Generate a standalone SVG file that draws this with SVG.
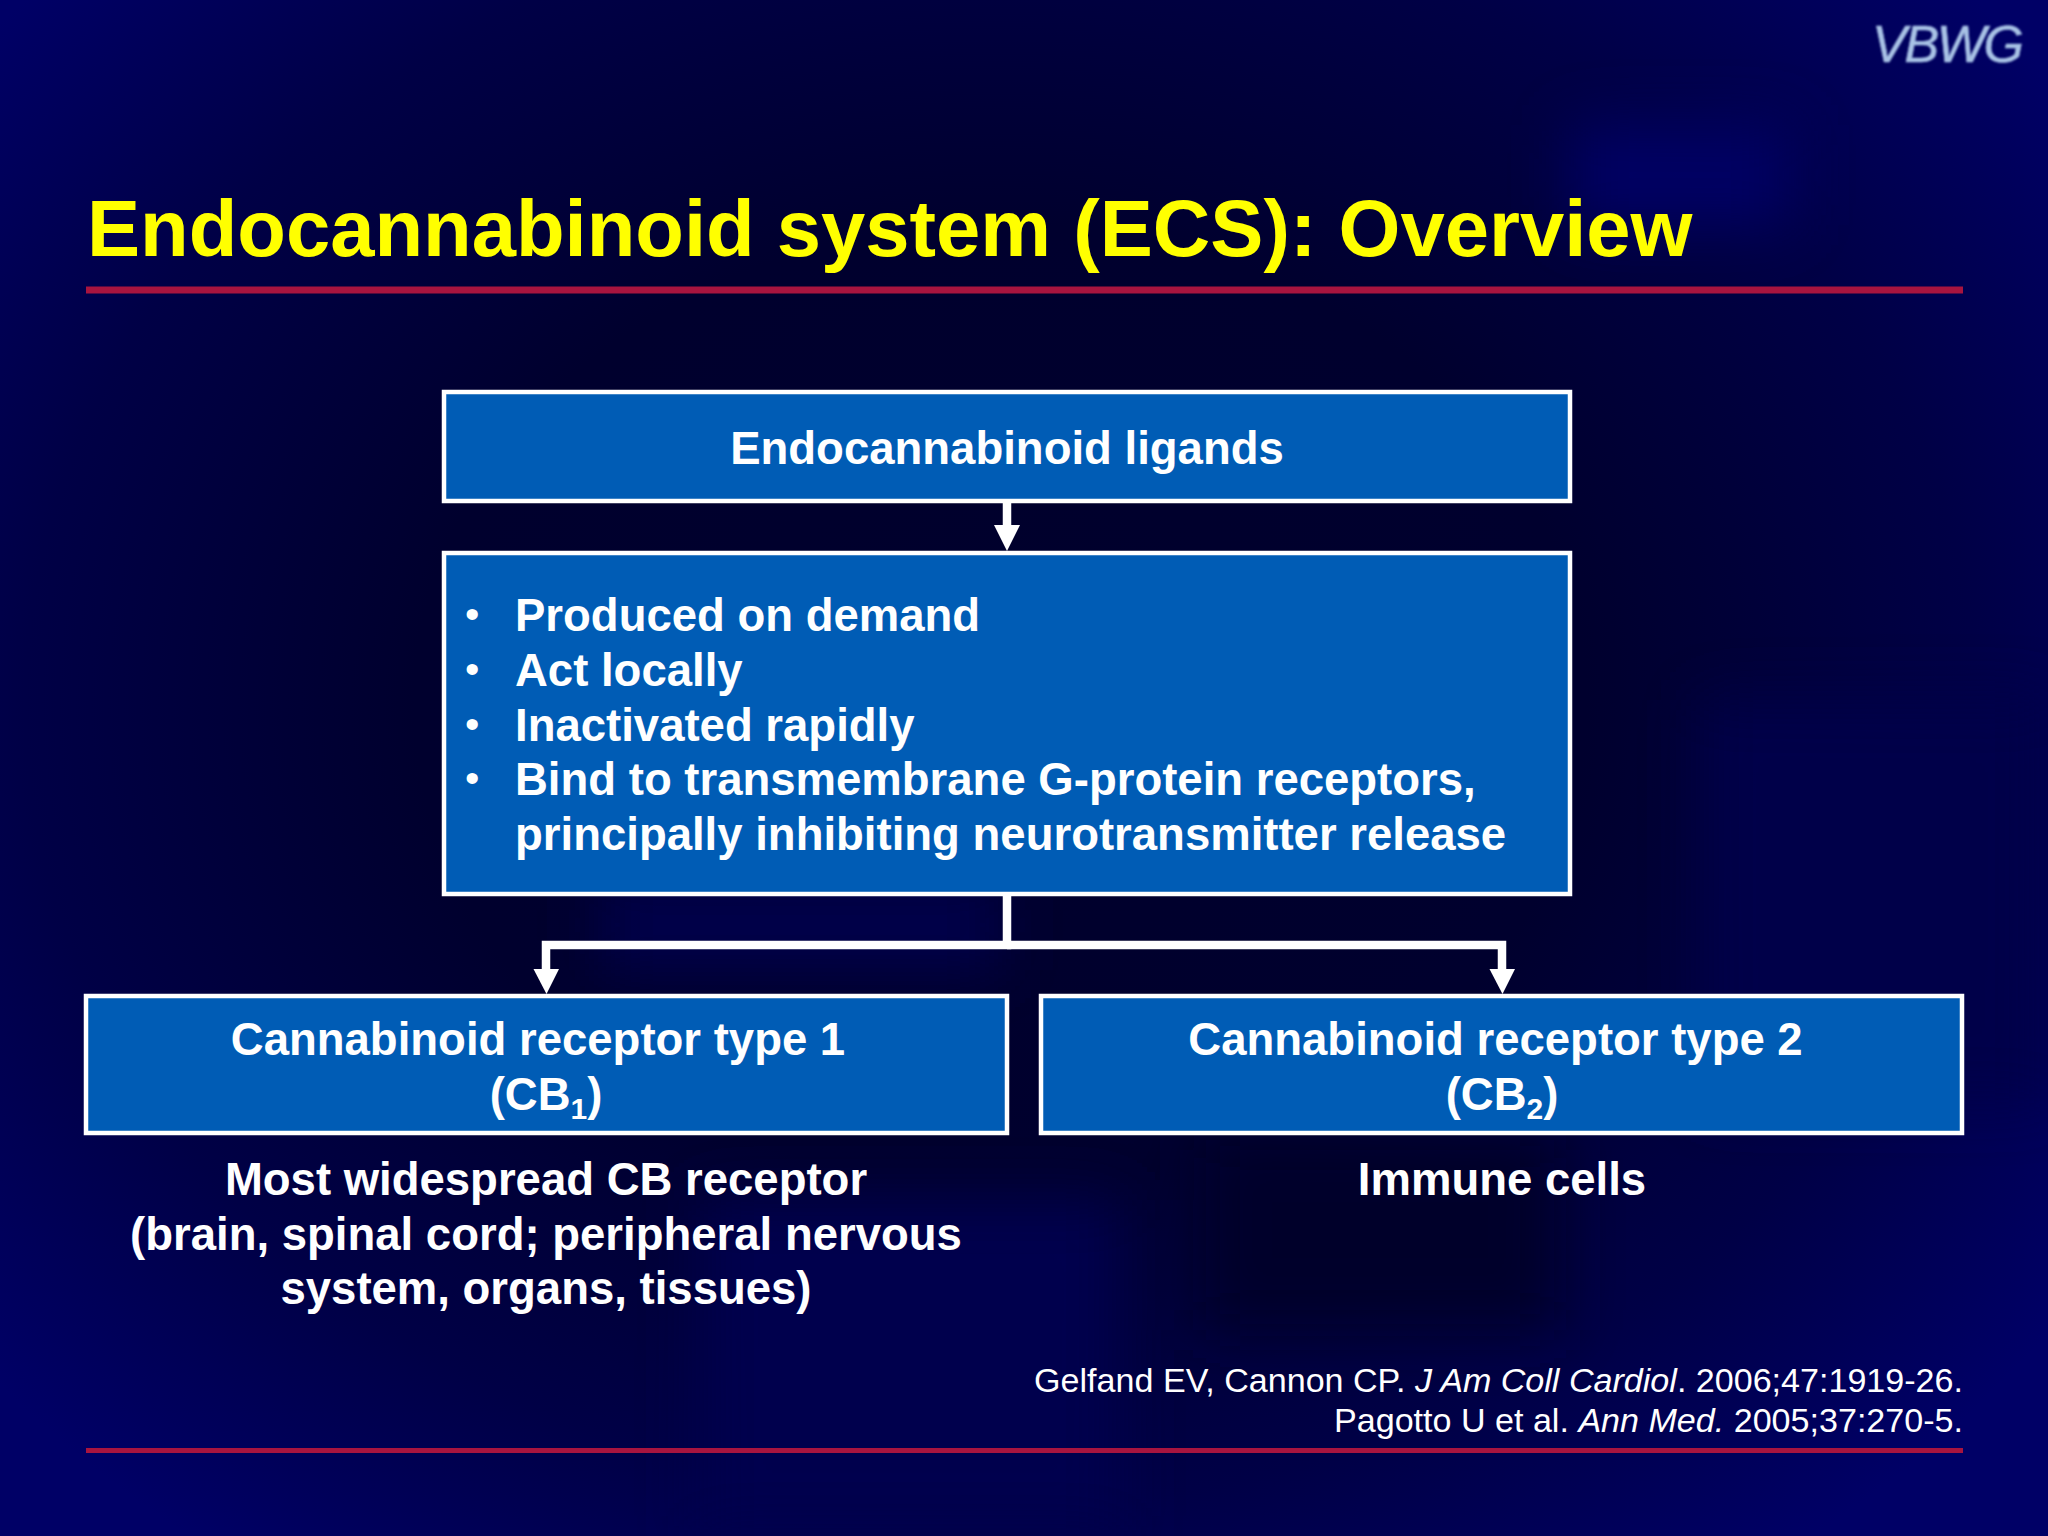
<svg xmlns="http://www.w3.org/2000/svg" width="2048" height="1536" viewBox="0 0 2048 1536">
<defs>
<radialGradient id="bg" gradientUnits="userSpaceOnUse" cx="1000" cy="700" r="1300" gradientTransform="translate(0 130) scale(1 .82)">
<stop offset="0" stop-color="#00002c"/><stop offset=".45" stop-color="#00002e"/><stop offset=".75" stop-color="#000046"/><stop offset="1" stop-color="#000066"/>
</radialGradient>
<filter id="blur" x="-30%" y="-30%" width="160%" height="160%"><feGaussianBlur stdDeviation="30"/></filter>
<filter id="soft"><feGaussianBlur stdDeviation="1.2"/></filter>
</defs>
<style>
.t{font-family:"Liberation Sans",Arial,sans-serif;font-weight:700;font-size:45.5px;fill:#fff}
.b{font-family:"Liberation Sans",Arial,sans-serif;font-size:41px;fill:#fff}
.c{text-anchor:middle}
.r{font-family:"Liberation Sans",Arial,sans-serif;font-size:34.1px;fill:#fff;text-anchor:end}
.box{fill:#005cb5;stroke:#fff;stroke-width:4.5}
.rule{fill:#a8143f}
.conn{fill:none;stroke:#fff;stroke-width:8.5}
</style>
<rect id="background" width="2048" height="1536" fill="url(#bg)"/>
<g id="patches" filter="url(#blur)">
<rect x="1570" y="125" width="220" height="100" fill="#000064"/>
<rect x="700" y="1200" width="420" height="336" fill="#00004e"/>
<rect x="1200" y="1130" width="360" height="200" fill="#00002a"/>
<rect x="600" y="880" width="400" height="90" fill="#00004c"/>
<rect x="1700" y="700" width="348" height="400" fill="#00004a"/>
</g>
<text id="logo" x="1872" y="62" font-family="Liberation Sans,Arial,sans-serif" font-style="italic" font-size="52" fill="#a9c3e6" stroke="#a9c3e6" stroke-width=".6" filter="url(#soft)" textLength="152">VBWG</text>
<g id="header">
<text x="87" y="255.500" font-family="Liberation Sans,Arial,sans-serif" font-weight="700" font-size="79.600" fill="#ffff00">Endocannabinoid system (ECS): Overview</text>
<rect class="rule" x="86" y="286.500" width="1877" height="7"/>
</g>
<g id="connectors">
<path class="conn" d="M1007 503V530" />
<path d="M994 525L1020 525L1007 551Z" fill="#fff"/>
<path class="conn" d="M1007 896V945H546V970"/>
<path d="M533.500 969L559 969L546.500 994Z" fill="#fff"/>
<path class="conn" d="M1007 945H1502V970"/>
<path d="M1489.500 969L1515 969L1502.500 994Z" fill="#fff"/>
</g>
<g id="node-ligands">
<rect class="box" x="444" y="392" width="1126" height="109"/>
<text class="t c" x="1007" y="464">Endocannabinoid ligands</text>
</g>
<g id="node-properties">
<rect class="box" x="444" y="553" width="1126" height="341"/>
<text class="b" x="465" y="628">•</text><text class="t" x="515" y="631">Produced on demand</text>
<text class="b" x="465" y="683">•</text><text class="t" x="515" y="686">Act locally</text>
<text class="b" x="465" y="738">•</text><text class="t" x="515" y="741">Inactivated rapidly</text>
<text class="b" x="465" y="792">•</text><text class="t" x="515" y="795">Bind to transmembrane G-protein receptors,</text>
<text class="t" x="515" y="850">principally inhibiting neurotransmitter release</text>
</g>
<g id="node-cb1">
<rect class="box" x="86" y="996" width="921" height="137"/>
<text class="t c" x="538" y="1055">Cannabinoid receptor type 1</text>
<text class="t c" x="546" y="1110">(CB<tspan font-size="30" dy="9">1</tspan><tspan dy="-9">)</tspan></text>
</g>
<g id="node-cb2">
<rect class="box" x="1041" y="996" width="921" height="137"/>
<text class="t c" x="1495.500" y="1055">Cannabinoid receptor type 2</text>
<text class="t c" x="1502" y="1110">(CB<tspan font-size="30" dy="9">2</tspan><tspan dy="-9">)</tspan></text>
</g>
<g id="note-cb1">
<text class="t c" x="546" y="1195">Most widespread CB receptor</text>
<text class="t c" x="546" y="1249.500">(brain, spinal cord; peripheral nervous</text>
<text class="t c" x="546" y="1304">system, organs, tissues)</text>
</g>
<g id="note-cb2"><text class="t c" x="1502" y="1195">Immune cells</text></g>
<g id="footer">
<text class="r" x="1963" y="1392">Gelfand EV, Cannon CP. <tspan font-style="italic">J Am Coll Cardiol</tspan>. 2006;47:1919-26.</text>
<text class="r" x="1963" y="1432">Pagotto U et al. <tspan font-style="italic">Ann Med.</tspan> 2005;37:270-5.</text>
<rect class="rule" x="86" y="1448" width="1877" height="5"/>
</g>
</svg>
